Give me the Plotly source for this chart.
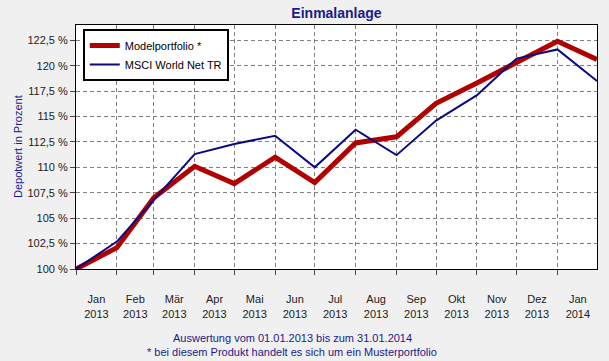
import plotly.graph_objects as go
import pandas as pd

# ---- data ----
dates = ["2013-01-01", "2013-02-01", "2013-03-01", "2013-04-01", "2013-05-01",
         "2013-06-01", "2013-07-01", "2013-08-01", "2013-09-01", "2013-10-01",
         "2013-11-01", "2013-12-01", "2014-01-01", "2014-01-31"]
modelportfolio = [100, 102.1, 107.0, 110.1, 108.4, 111.0, 108.5, 112.4,
                  113.0, 116.3, 118.3, 120.3, 122.4, 120.6]
msci_world = [100, 102.7, 106.8, 111.3, 112.3, 113.1, 110.0, 113.7,
              111.2, 114.6, 117.1, 120.7, 121.6, 118.5]

month_labels = ["Jan<br>2013", "Feb<br>2013", "Mär<br>2013", "Apr<br>2013",
                "Mai<br>2013", "Jun<br>2013", "Jul<br>2013", "Aug<br>2013",
                "Sep<br>2013", "Okt<br>2013", "Nov<br>2013", "Dez<br>2013",
                "Jan<br>2014"]
y_tickvals = [100, 102.5, 105, 107.5, 110, 112.5, 115, 117.5, 120, 122.5]
y_ticktext = ["100 %", "102,5 %", "105 %", "107,5 %", "110 %", "112,5 %",
              "115 %", "117,5 %", "120 %", "122,5 %"]

# month start dates and label positions (centre of each month)
month_starts = pd.date_range("2013-01-01", "2014-02-01", freq="MS")
month_mids = [month_starts[i] + (month_starts[i + 1] - month_starts[i]) / 2
              for i in range(len(month_starts) - 1)]

NAVY = "#1A1A8C"
FONT = "Arial, Liberation Sans, sans-serif"

fig = go.Figure()
fig.add_trace(go.Scatter(x=dates, y=modelportfolio, mode="lines",
                         name="Modelportfolio *",
                         line=dict(color="#B00000", width=5)))
fig.add_trace(go.Scatter(x=dates, y=msci_world, mode="lines",
                         name="MSCI World Net TR",
                         line=dict(color="#0A0A80", width=2)))

fig.update_layout(
    width=609, height=361,
    paper_bgcolor="#F0F0F0", plot_bgcolor="white",
    margin=dict(l=76, r=12, t=25, b=92),
    font=dict(family=FONT, size=11, color="#222222"),
    title=dict(text="<b>Einmalanlage</b>", x=0.5, xanchor="center",
               y=1 - 13 / 361, yanchor="middle", xref="paper",
               font=dict(size=14, color=NAVY, family=FONT)),
    showlegend=True,
    legend=dict(x=0.013, y=0.984, xanchor="left", yanchor="top",
                bgcolor="white", bordercolor="black", borderwidth=2,
                font=dict(size=11, color="black", family=FONT),
                tracegroupgap=0, itemwidth=30),
    xaxis=dict(
        type="date",
        range=["2013-01-01", "2014-01-31"],
        tickvals=month_mids, ticktext=month_labels,
        ticks="", showgrid=False, ticklabelstandoff=20,
        tickfont=dict(size=11, color="#222222"),
        showline=True, linecolor="black", linewidth=1, mirror=True,
        minor=dict(tickvals=list(month_starts), ticks="outside", ticklen=5,
                   tickcolor="#444444", showgrid=True, gridcolor="#808080",
                   griddash="4px,3px", gridwidth=1),
        zeroline=False,
    ),
    yaxis=dict(
        range=[100, 124],
        tickvals=y_tickvals, ticktext=y_ticktext,
        ticks="outside", ticklen=5, tickcolor="#444444",
        showgrid=True, gridcolor="#808080", griddash="4px,3px", gridwidth=1,
        showline=True, linecolor="black", linewidth=1, mirror=True,
        zeroline=False,
        tickfont=dict(size=11, color="#222222"),
    ),
    annotations=[
        dict(text="Depotwert in Prozent", textangle=-90, xref="paper",
             yref="paper", x=-58 / 521, y=0.5, xanchor="center",
             yanchor="middle", showarrow=False,
             font=dict(size=11, color=NAVY, family=FONT)),
        dict(text="Auswertung vom 01.01.2013 bis zum 31.01.2014",
             xref="paper", yref="paper", x=(292 - 76) / 521,
             y=-(338 - 269) / 244, xanchor="center", yanchor="middle",
             showarrow=False, font=dict(size=11, color=NAVY, family=FONT)),
        dict(text="* bei diesem Produkt handelt es sich um ein Musterportfolio",
             xref="paper", yref="paper", x=(292 - 76) / 521,
             y=-(352 - 269) / 244, xanchor="center", yanchor="middle",
             showarrow=False, font=dict(size=11, color=NAVY, family=FONT)),
    ],
)

fig.write_html("out.html",
               config={"displayModeBar": False},
               post_script="document.body.style.margin='0';"
                           "document.body.style.overflow='hidden';")
